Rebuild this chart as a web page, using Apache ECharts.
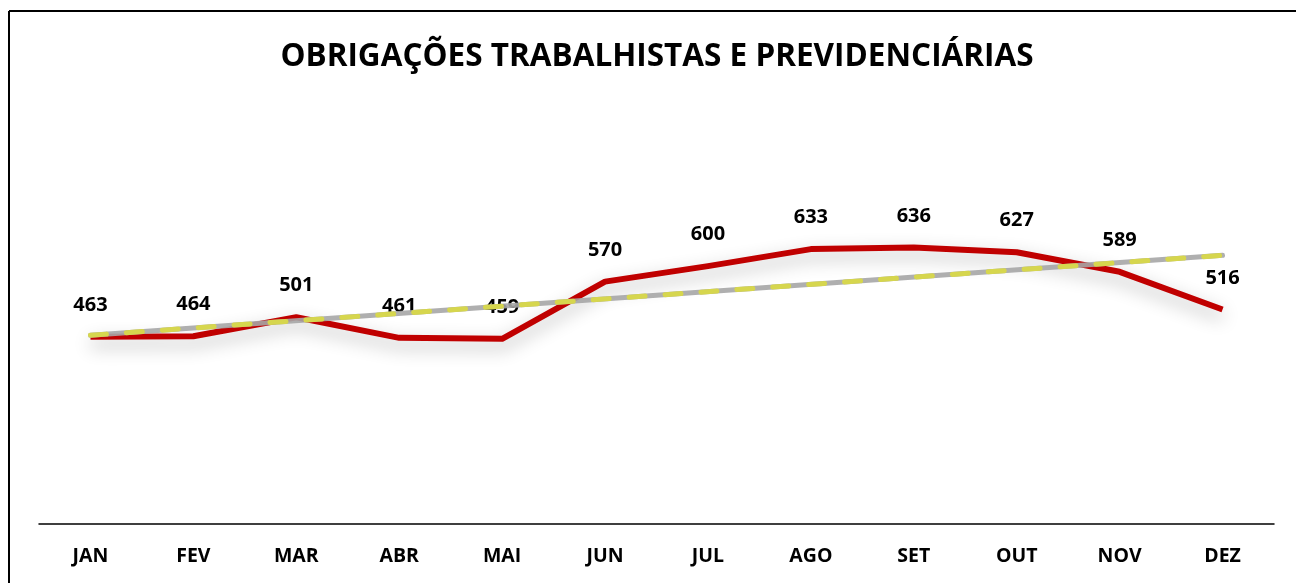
<!DOCTYPE html>
<html>
<head>
<meta charset="utf-8">
<script src="https://cdn.jsdelivr.net/npm/echarts@6/dist/echarts.min.js"></script>
<style>
  html, body { margin: 0; padding: 0; background: #fff; }
  #main { width: 1296px; height: 583px; }
</style>
</head>
<body>
<div id="main"></div>
<script>
// meses e valores
var meses = ["JAN", "FEV", "MAR", "ABR", "MAI", "JUN", "JUL", "AGO", "SET", "OUT", "NOV", "DEZ"];
var valores = [463, 464, 501, 461, 459, 570, 600, 633, 636, 627, 589, 516];
// linha de tendencia (inicio e fim)
var tendencia = [466, null, null, null, null, null, null, null, null, null, null, 621];

var myChart = echarts.init(document.getElementById("main"));

var fonte = "Open Sans";

var option = {
  animation: false,
  title: {
    text: "OBRIGAÇÕES TRABALHISTAS E PREVIDENCIÁRIAS",
    left: 652,
    top: 36,
    textAlign: "center",
    textStyle: {
      fontFamily: fonte,
      fontWeight: "bold",
      fontSize: 31.5,
      color: "#000",
    },
  },
  graphic: [
    {
      type: "line",
      shape: { x1: 9, y1: 11, x2: 1296, y2: 11 },
      style: { stroke: "#000", lineWidth: 2 },
    },
    {
      type: "line",
      shape: { x1: 9, y1: 11, x2: 9, y2: 583 },
      style: { stroke: "#000", lineWidth: 2 },
    },
  ],
  grid: {
    left: 39,
    right: 22,
    top: 163,
    bottom: 59,
  },
  xAxis: {
    type: "category",
    data: meses,
    boundaryGap: true,
    axisLine: { lineStyle: { color: "#000", width: 1.5 } },
    axisTick: { show: false },
    axisLabel: {
      margin: 22,
      fontFamily: fonte,
      fontWeight: "bold",
      fontSize: 19.5,
      color: "#000",
    },
  },
  yAxis: {
    type: "value",
    min: 100,
    max: 800,
    show: false,
    splitLine: { show: false },
  },
  series: [
    {
      name: "valores",
      type: "line",
      data: valores,
      symbol: "circle",
      symbolSize: 1,
      showSymbol: true,
      itemStyle: { opacity: 0 },
      z: 2,
      lineStyle: {
        color: "#C00000",
        width: 6,
        join: "round",
        shadowColor: "rgba(0,0,0,0.3)",
        shadowBlur: 18,
        shadowOffsetY: 7,
      },
      label: {
        show: true,
        position: "top",
        distance: 21,
        fontFamily: fonte,
        fontWeight: "bold",
        fontSize: 20,
        color: "#000",
        opacity: 1,
      },
    },
    {
      name: "tendencia",
      type: "line",
      data: tendencia,
      connectNulls: true,
      symbol: "none",
      z: 3,
      lineStyle: { color: "#A6A6A6", width: 5, cap: "round", opacity: 0.9 },
    },
    {
      name: "tendencia2",
      type: "line",
      data: tendencia,
      connectNulls: true,
      symbol: "none",
      z: 4,
      lineStyle: {
        color: "#D6D64E",
        width: 5,
        type: [16, 20],
        cap: "round",
      },
    },
  ],
};

myChart.setOption(option);
</script>
</body>
</html>
